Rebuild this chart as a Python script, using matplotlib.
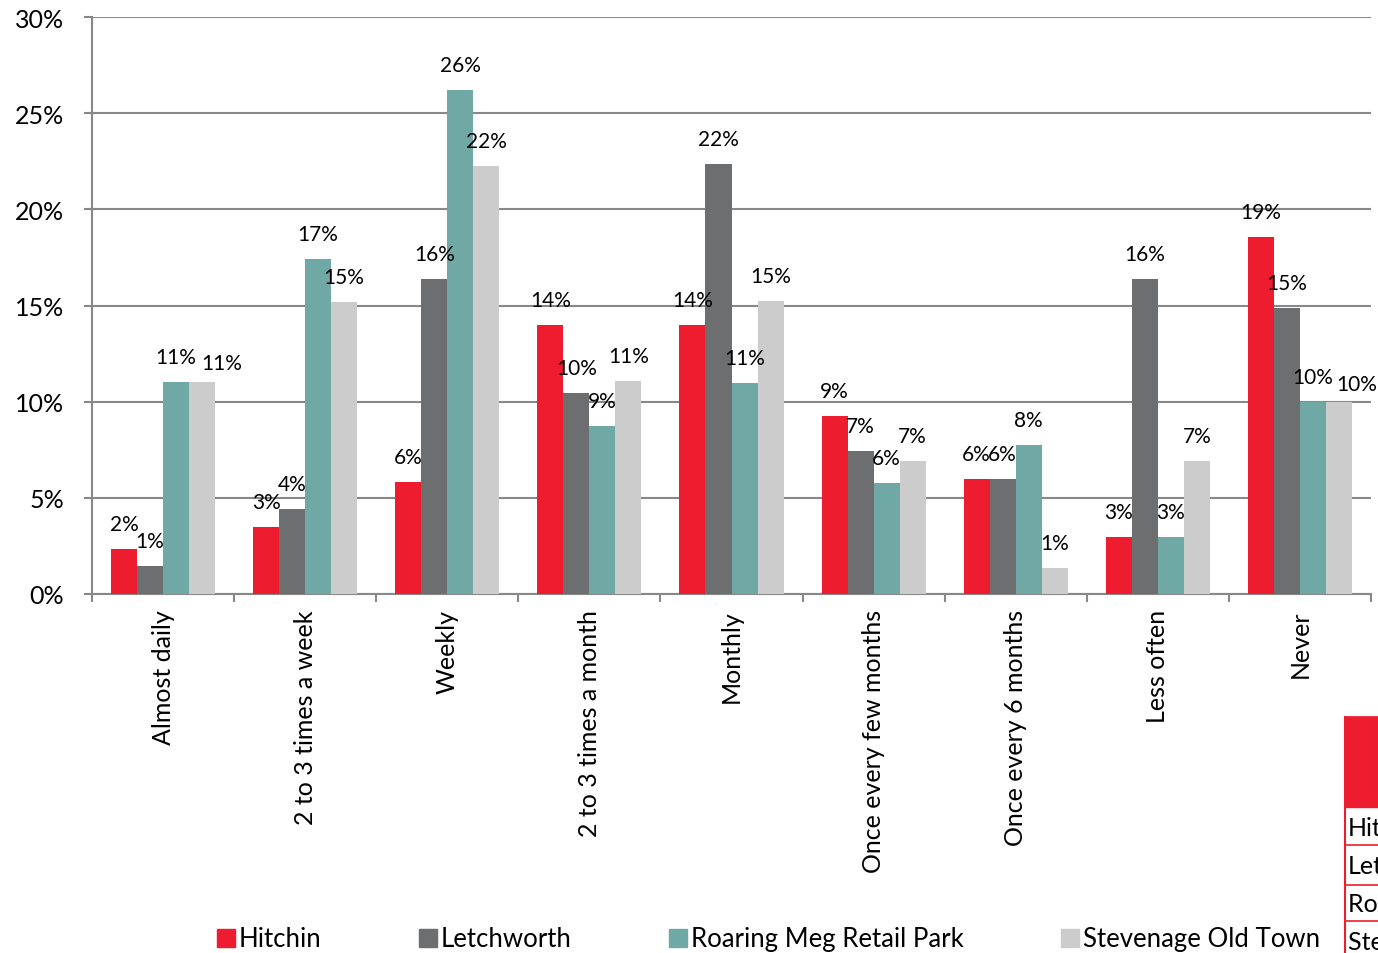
import numpy as np
import matplotlib.pyplot as plt
from matplotlib.patches import Patch, Rectangle
from matplotlib.lines import Line2D

plt.rcParams['font.family'] = ['Lato', 'DejaVu Sans']

# Data (percent of respondents)
categories = ['Almost daily', '2 to 3 times a week', 'Weekly', '2 to 3 times a month',
              'Monthly', 'Once every few months', 'Once every 6 months', 'Less often', 'Never']
series_names = ['Hitchin', 'Letchworth', 'Roaring Meg Retail Park', 'Stevenage Old Town']
hitchin = [2.33, 3.48, 5.80, 14.0, 13.98, 9.27, 5.96, 2.96, 18.58]
letchworth = [1.46, 4.42, 16.39, 10.43, 22.38, 7.42, 5.96, 16.4, 14.88]
roaring_meg = [11.0, 17.4, 26.2, 8.74, 10.97, 5.79, 7.73, 2.96, 10.0]
stevenage = [11.0, 15.2, 22.25, 11.08, 15.24, 6.92, 1.35, 6.92, 10.0]
y_ticks = [0, 5, 10, 15, 20, 25, 30]

colors = ['#ED1C2E', '#6D6E70', '#6FA8A4', '#CCCCCC']
grid_col = '#888888'

W, H = 1378, 954
fig = plt.figure(figsize=(W / 100, H / 100), dpi=100)
ax = fig.add_axes([92 / W, 1 - 595 / H, (1371 - 92) / W, (595 - 18) / H])

# labels that were nudged sideways in the original, (series, category) -> offset in points
nudges = {(3, 0): (14, 14), (3, 8): (13, 13)}

x = np.arange(len(categories))
width = 0.183
series_values = [hitchin, letchworth, roaring_meg, stevenage]
for i, (vals, col) in enumerate(zip(series_values, colors)):
    pos = x + (i - 1.5) * width
    ax.bar(pos, vals, width, color=col, zorder=3, linewidth=0)
    for j, (px, v) in enumerate(zip(pos, vals)):
        dx, dy = nudges.get((i, j), (0, 18))
        ax.annotate(f'{v:.0f}%', (px, v), xytext=(dx, dy), textcoords='offset points',
                    ha='center', va='center', fontsize=15, zorder=4)

ax.set_xlim(-0.5, len(categories) - 0.5)
ax.set_ylim(0, 30)
ax.set_yticks(y_ticks)
ax.set_yticklabels([f'{t}%' for t in y_ticks])
ax.yaxis.grid(True, color=grid_col, linewidth=1.5, zorder=0)
ax.set_axisbelow(True)

ax.set_xticks(x)
ax.set_xticklabels(categories, rotation=90, va='top', ha='center')
ax.set_xticks(np.arange(-0.5, len(categories), 1), minor=True)
ax.tick_params(axis='x', which='major', length=0, pad=11, labelsize=18)
ax.tick_params(axis='x', which='minor', length=6, width=1.5, color=grid_col)
ax.tick_params(axis='y', length=6, width=1.5, color=grid_col, pad=14, labelsize=18)

for s in ['top', 'right']:
    ax.spines[s].set_visible(False)
for s in ['left', 'bottom']:
    ax.spines[s].set_color(grid_col)
    ax.spines[s].set_linewidth(1.5)

handles = [Patch(color=c, label=n) for c, n in zip(colors, series_names)]
fig.legend(handles=handles, loc='center left', bbox_to_anchor=(217 / W, 1 - 940 / H),
           ncol=4, frameon=False, fontsize=18.5, handlelength=0.7, handleheight=0.7,
           handletextpad=0.14, columnspacing=3.8, borderpad=0, borderaxespad=0)

# data table cut off at the right edge
tx = 1345 / W
fig.patches.append(Rectangle((tx, 1 - 808 / H), 1 - tx, (808 - 718) / H,
                             transform=fig.transFigure, color=colors[0], figure=fig))
for yy in [718, 808, 846, 886, 922]:
    fig.lines.append(Line2D([tx, 1], [1 - yy / H] * 2, transform=fig.transFigure,
                            color=colors[0], linewidth=1.2, figure=fig))
fig.lines.append(Line2D([tx, tx], [1 - 718 / H, 0], transform=fig.transFigure,
                        color=colors[0], linewidth=1.5, figure=fig))
for name, yc in zip(series_names, [829, 867, 905, 943]):
    fig.text(1348 / W, 1 - yc / H, name, fontsize=18, va='center', ha='left')

fig.savefig('out.png', dpi=100)
